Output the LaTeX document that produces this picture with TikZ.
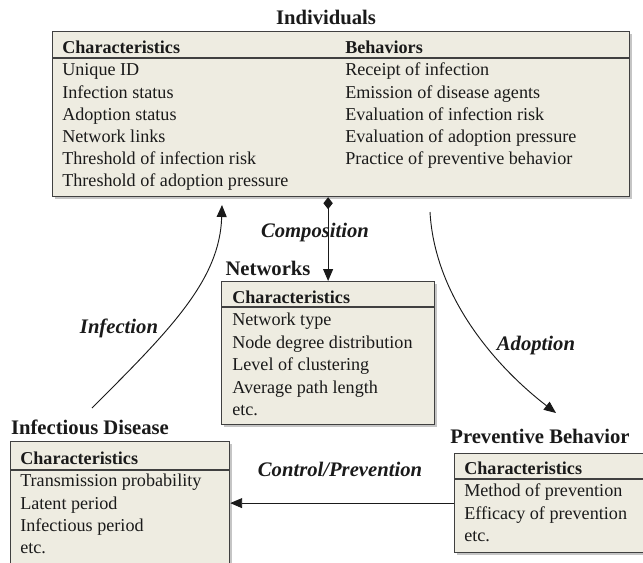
\documentclass[tikz,border=0pt]{standalone}
\usepackage{fontspec}
\setmainfont{Liberation Serif}
\usetikzlibrary{arrows.meta,shadows}
\definecolor{boxfill}{HTML}{EEECE1}
\definecolor{boxline}{HTML}{404040}
\definecolor{ink}{HTML}{1A1A1A}
\tikzset{
  box/.style={draw=boxline, line width=0.9pt, fill=boxfill, anchor=north west, inner sep=0pt,
              drop shadow={shadow xshift=1.5pt, shadow yshift=-1.5pt, fill=black!45}},
  sep/.style={draw=boxline, line width=0.8pt},
  rows/.style={anchor=north west, inner sep=0pt, align=left, text=ink, font=\fontsize{13.6}{16.6}\selectfont},
  title/.style={inner sep=0pt, text=ink, font=\fontsize{15.5}{18}\selectfont\bfseries},
  lab/.style={inner sep=0pt, text=ink, font=\fontsize{15.5}{18}\selectfont\bfseries\itshape},
  conn/.style={draw=ink, line width=0.7pt, -{Triangle[length=9pt,width=7.5pt]}}
}
\begin{document}
\begin{tikzpicture}[x=0.75pt,y=-0.75pt]
\useasboundingbox (0,0) rectangle (643,562);
% Individuals
\node[title] (indT) at (326,17) {Individuals};
\node[box, minimum width=432.75pt, minimum height=123.75pt] (ind) at (52,31) {};
\draw[sep] (ind.west |- 0,58) -- (ind.east |- 0,58);
\node[rows] (indC) at (62,41) {\textbf{Characteristics}\\Unique ID\\Infection status\\Adoption status\\Network links\\Threshold of infection risk\\Threshold of adoption pressure};
\node[rows] (indB) at (345,41) {\textbf{Behaviors}\\Receipt of infection\\Emission of disease agents\\Evaluation of infection risk\\Evaluation of adoption pressure\\Practice of preventive behavior};
% Networks
\node[title] (netT) at (268,268) {Networks};
\node[box, minimum width=159.75pt, minimum height=107.25pt] (net) at (221,281) {};
\draw[sep] (net.west |- 0,307) -- (net.east |- 0,307);
\node[rows, font=\fontsize{13.6}{16.85}\selectfont] (netC) at (232,290.5) {\textbf{Characteristics}\\Network type\\Node degree distribution\\Level of clustering\\Average path length\\etc.};
% Infectious Disease
\node[title] (disT) at (90,427) {Infectious Disease};
\node[box, minimum width=164.25pt, minimum height=96pt] (dis) at (10,441) {};
\draw[sep] (dis.west |- 0,470) -- (dis.east |- 0,470);
\node[rows] (disC) at (20,452) {\textbf{Characteristics}\\Transmission probability\\Latent period\\Infectious period\\etc.};
% Preventive Behavior
\node[title] (prvT) at (540,436) {Preventive Behavior};
\node[box, minimum width=146.25pt, minimum height=74.25pt] (prv) at (454,453) {};
\draw[sep] (prv.west |- 0,479) -- (prv.east |- 0,479);
\node[rows] (prvC) at (464,462) {\textbf{Characteristics}\\Method of prevention\\Efficacy of prevention\\etc.};
% Connectors
\draw[draw=ink, line width=0.7pt, {Diamond[length=9pt,width=7pt]}-{Triangle[length=9pt,width=7.5pt]}] (ind.south -| net.north) -- (net.north);
\node[lab] (compL) at (315,233) {Composition};
\coordinate (infS) at (92,408);
\coordinate (infE) at (222,205);
\draw[conn] (infS) .. controls (170,330) and (220,280) .. (infE);
\node[lab] (infL) at (119,328) {Infection};
\coordinate (adoS) at (430,212);
\coordinate (adoE) at (556,413);
\draw[conn] (adoS) .. controls (435,300) and (500,370) .. (adoE);
\node[lab] (adoL) at (536,346) {Adoption};
\draw[conn] (prv.west) -- (prv.west -| dis.east);
\node[lab] (ctlL) at (340,469) {Control/Prevention};
\end{tikzpicture}
\end{document}
